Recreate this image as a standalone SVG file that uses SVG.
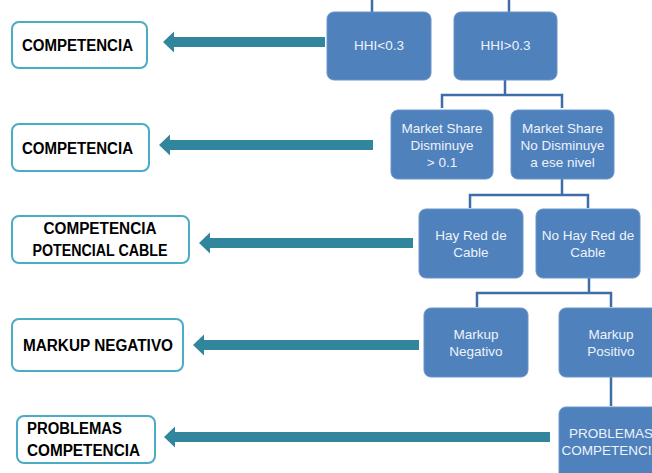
<svg xmlns="http://www.w3.org/2000/svg" width="652" height="473" viewBox="0 0 652 473">
<style>
.node rect{fill:#4F81BD;stroke:#6A95C9;stroke-width:1}
.node text{font-family:"Liberation Sans",Arial,sans-serif;font-size:13.5px;fill:#EEF3FA;text-anchor:middle}
.out rect{fill:#FFFFFF;stroke:#4BACC6;stroke-width:2}
.out text{font-family:"Liberation Sans",Arial,sans-serif;font-size:16px;font-weight:bold;fill:#000000}
.tree{fill:none;stroke:#3F6DA8;stroke-width:2.5}
.arrow{fill:#31859C}
</style>
<rect width="652" height="473" fill="#FFFFFF"/>
<g id="connectors">
<path class="tree" d="M372 0V12M509 0V12"/>
<path class="tree" d="M505 80V95M442 108V95H562V108"/>
<path class="tree" d="M562 179V195M470 208V195H588V208"/>
<path class="tree" d="M589 278V293M477 307V293H611V307"/>
<path class="tree" d="M611 377V406"/>
<path class="arrow" d="M163 42L174 31.5V37H325V47H174V52.5Z"/>
<path class="arrow" d="M159 145L170 134.5V140H373V150H170V155.5Z"/>
<path class="arrow" d="M199 243L210 232.5V238H413V248H210V253.5Z"/>
<path class="arrow" d="M193 345L204 334.5V340H419V350H204V355.5Z"/>
<path class="arrow" d="M164 437L175 426.5V432H550V442H175V447.5Z"/>
</g>
<g id="hhi-low" class="node"><rect x="327" y="12" width="104" height="68" rx="7"/><text x="379" y="50">HHI&lt;0.3</text></g>
<g id="hhi-high" class="node"><rect x="454" y="12" width="103" height="68" rx="7"/><text x="505.5" y="50">HHI&gt;0.3</text></g>
<g id="ms-dis" class="node"><rect x="391" y="110" width="102" height="69" rx="7"/><text x="442" y="132.5">Market Share</text><text x="442" y="150">Disminuye</text><text x="442" y="167">&gt; 0.1</text></g>
<g id="ms-nodis" class="node"><rect x="511" y="110" width="103" height="69" rx="7"/><text x="562.5" y="132.5">Market Share</text><text x="562.5" y="150">No Disminuye</text><text x="562.5" y="167">a ese nivel</text></g>
<g id="red" class="node"><rect x="419" y="209" width="104" height="69" rx="7"/><text x="471" y="239.5">Hay Red de</text><text x="471" y="256.5">Cable</text></g>
<g id="nored" class="node"><rect x="536" y="209" width="104" height="69" rx="7"/><text x="588" y="239.5">No Hay Red de</text><text x="588" y="256.5">Cable</text></g>
<g id="mk-neg" class="node"><rect x="424" y="308" width="104" height="69" rx="7"/><text x="476" y="338.5">Markup</text><text x="476" y="355.5">Negativo</text></g>
<g id="mk-pos" class="node"><rect x="559" y="308" width="104" height="69" rx="7"/><text x="611" y="338.5">Markup</text><text x="611" y="355.5">Positivo</text></g>
<g id="prob" class="node"><rect x="559" y="407" width="104" height="80" rx="7"/><text x="611" y="437.5">PROBLEMAS</text><text x="611" y="454.5">COMPETENCIA</text></g>
<g id="out1" class="out"><rect x="12" y="22" width="135" height="46" rx="7"/><text x="22" y="51" textLength="111" lengthAdjust="spacingAndGlyphs">COMPETENCIA</text></g>
<g id="out2" class="out"><rect x="12" y="124" width="137" height="47" rx="7"/><text x="22" y="153.5" textLength="111" lengthAdjust="spacingAndGlyphs">COMPETENCIA</text></g>
<g id="out3" class="out"><rect x="12" y="216" width="177" height="47" rx="7"/><text x="100" y="233.5" text-anchor="middle" textLength="113" lengthAdjust="spacingAndGlyphs">COMPETENCIA</text><text x="100" y="255.5" text-anchor="middle" textLength="135" lengthAdjust="spacingAndGlyphs">POTENCIAL CABLE</text></g>
<g id="out4" class="out"><rect x="12" y="319" width="171" height="52" rx="7"/><text x="23" y="351" textLength="150" lengthAdjust="spacingAndGlyphs">MARKUP NEGATIVO</text></g>
<g id="out5" class="out"><rect x="17" y="416" width="138" height="47" rx="7"/><text x="27" y="433.5" textLength="95" lengthAdjust="spacingAndGlyphs">PROBLEMAS</text><text x="27" y="455.5" textLength="113" lengthAdjust="spacingAndGlyphs">COMPETENCIA</text></g>
</svg>
